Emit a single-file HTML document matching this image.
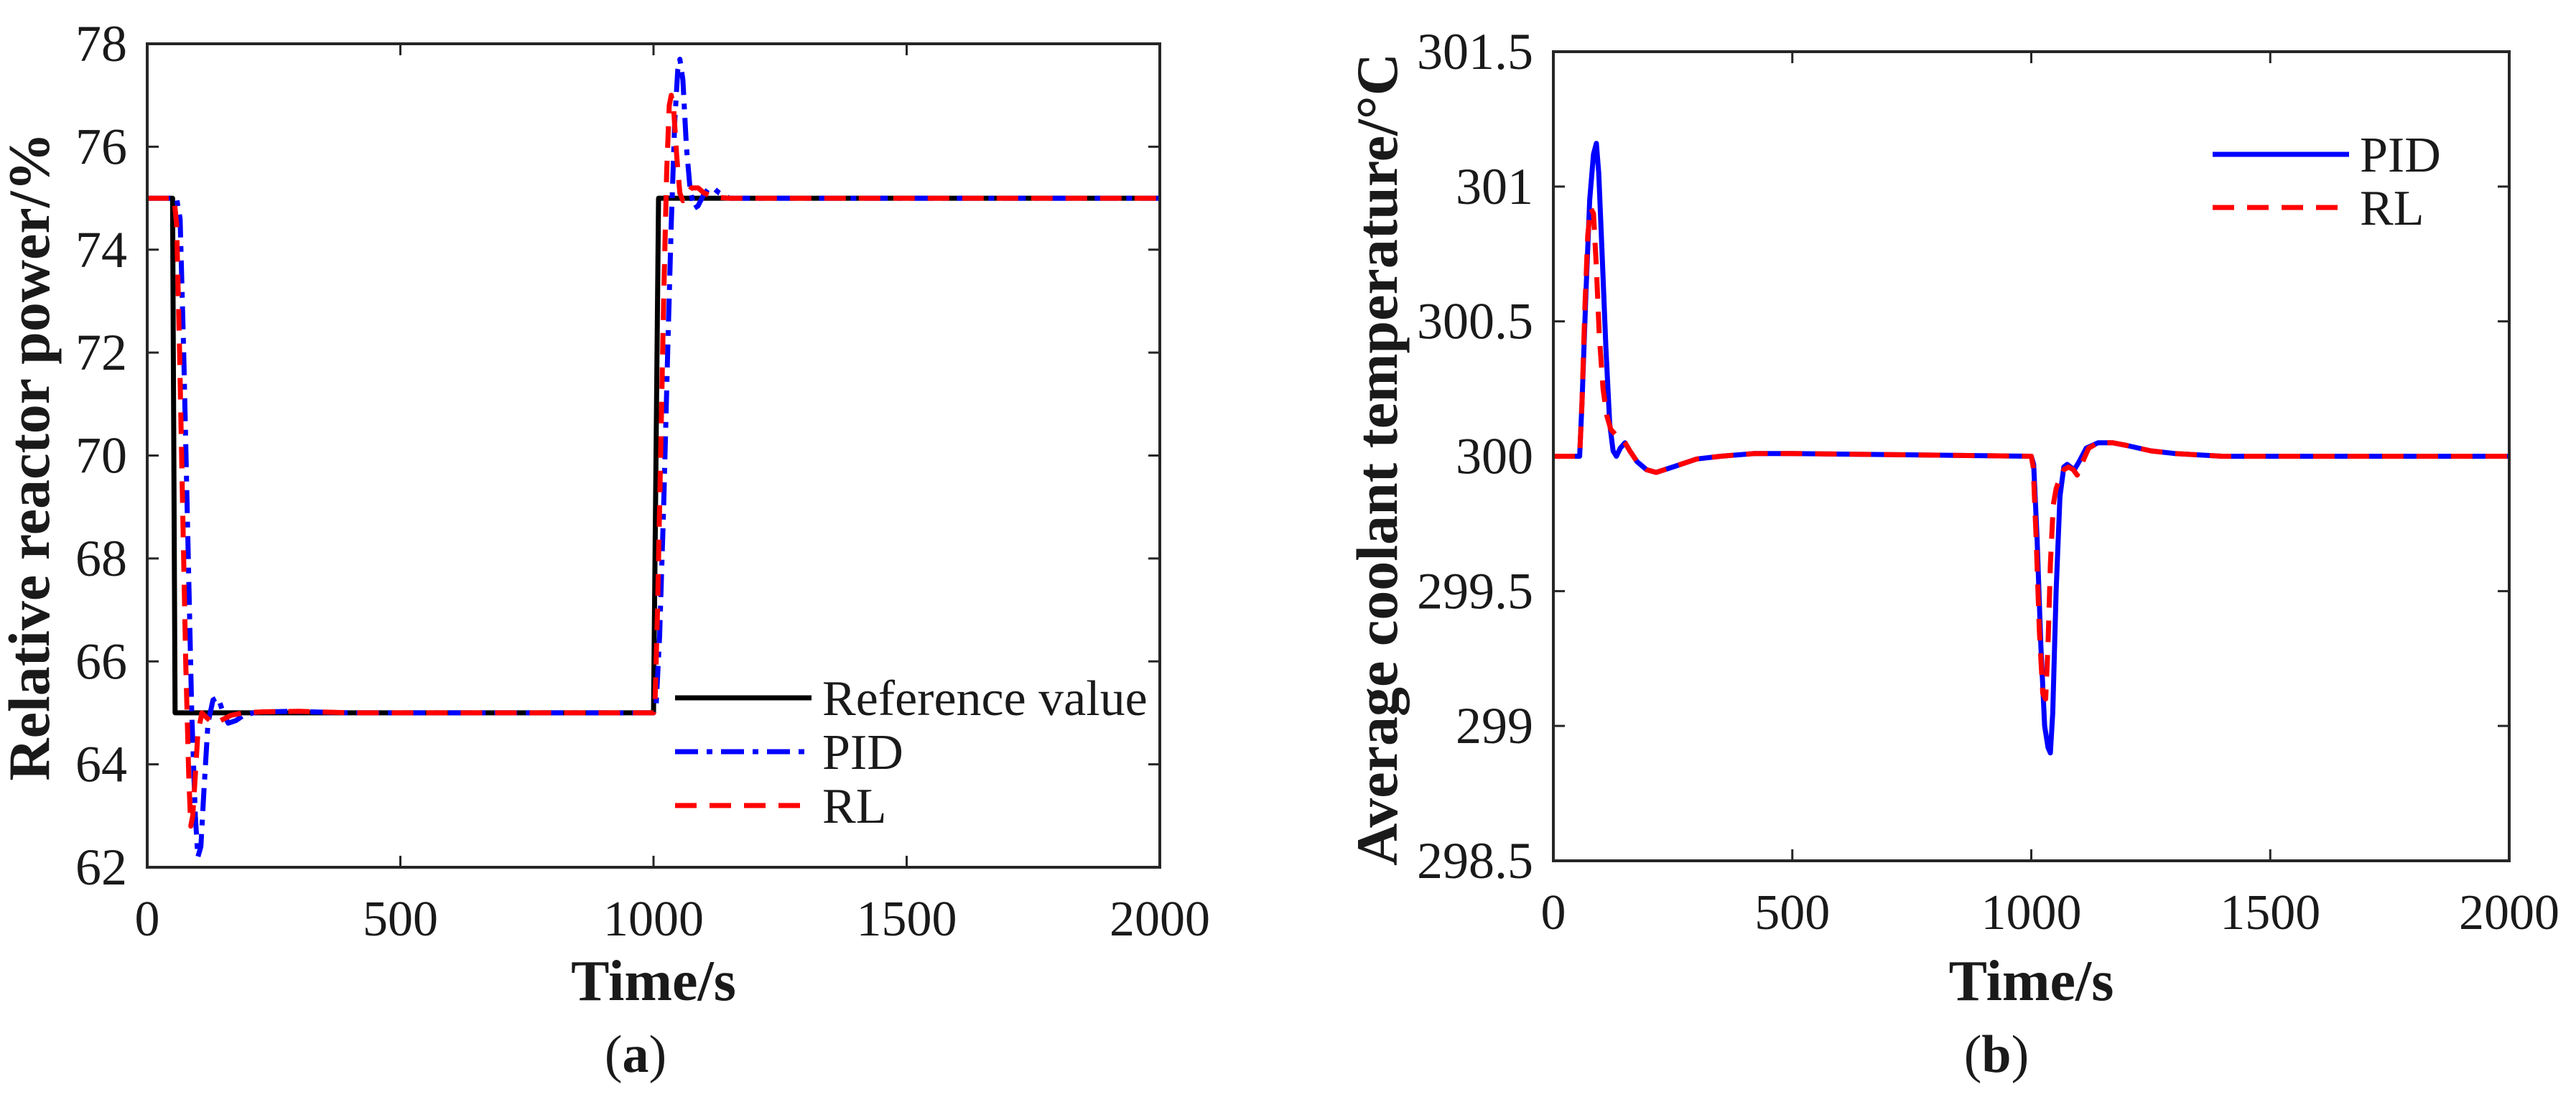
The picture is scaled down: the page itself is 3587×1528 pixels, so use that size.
<!DOCTYPE html>
<html><head><meta charset="utf-8"><style>
html,body{margin:0;padding:0;background:#fff}
svg{display:block;font-family:"Liberation Serif","Times New Roman","DejaVu Serif",serif}
svg text{font-family:"Liberation Serif","Times New Roman","DejaVu Serif",serif;fill:#1a1a1a}
</style></head><body>
<svg id="fig" width="3587" height="1528" viewBox="0 0 3587 1528"></svg>
<script>
// ---------- Data: panel (a) relative reactor power ----------
const aXTicks = [0, 500, 1000, 1500, 2000];
const aYTicks = [62, 64, 66, 68, 70, 72, 74, 76, 78];
const aRefT = [0, 50, 55, 1000, 1010, 2000];
const aRefV = [75, 75, 65, 65, 75, 75];
const aPidT = [0, 58, 65, 72, 80, 88, 95, 100, 106, 112, 120, 130, 140, 150, 160, 175, 190, 210, 240, 280, 320, 400, 1000, 1005, 1012, 1020, 1028, 1035, 1042, 1048, 1052, 1058, 1065, 1072, 1080, 1088, 1098, 1108, 1118, 1130, 1150, 1180, 1250, 2000];
const aPidV = [75, 75, 74.6, 72, 68.5, 65, 63, 62.2, 62.4, 63.5, 64.8, 65.25, 65.3, 65.0, 64.8, 64.85, 64.95, 65.0, 65.02, 65.03, 65.02, 65.0, 65.0, 65.1, 66.5, 69, 72, 74.5, 76.5, 77.5, 77.7, 77.3, 76, 75.2, 74.8, 74.85, 75.05, 75.18, 75.2, 75.1, 75.0, 75.0, 75.0, 75.0];
const aRlT = [0, 53, 58, 64, 70, 76, 82, 86, 90, 95, 100, 108, 118, 130, 145, 165, 190, 230, 300, 400, 1000, 1003, 1008, 1014, 1020, 1026, 1031, 1035, 1040, 1046, 1052, 1058, 1065, 1075, 1088, 1100, 1120, 1150, 1200, 2000];
const aRlV = [75, 75, 74.5, 72, 69, 66, 63.8, 62.8, 63, 63.8, 64.6, 65.0, 64.9, 64.8, 64.85, 64.95, 65.0, 65.02, 65.03, 65.0, 65.0, 65.2, 67, 70, 73, 75.5, 76.8, 77.0, 76.7, 75.8, 75.1, 74.95, 75.05, 75.2, 75.2, 75.1, 75.02, 75.0, 75.0, 75.0];
// ---------- Data: panel (b) average coolant temperature ----------
const bXTicks = [0, 500, 1000, 1500, 2000];
const bYTicks = [298.5, 299, 299.5, 300, 300.5, 301, 301.5];
const bPidT = [0, 55, 60, 68, 76, 84, 90, 95, 102, 110, 118, 125, 132, 140, 150, 160, 175, 195, 215, 250, 300, 350, 420, 500, 1000, 1005, 1012, 1020, 1028, 1035, 1040, 1045, 1052, 1060, 1068, 1075, 1082, 1090, 1100, 1115, 1140, 1170, 1200, 1250, 1300, 1400, 2000];
const bPidV = [300, 300, 300.2, 300.6, 300.95, 301.12, 301.16, 301.05, 300.75, 300.4, 300.12, 300.02, 300.0, 300.03, 300.05, 300.02, 299.98, 299.95, 299.94, 299.96, 299.99, 300.0, 300.01, 300.01, 300.0, 299.97, 299.7, 299.3, 299.0, 298.92, 298.9, 299.05, 299.5, 299.85, 299.96, 299.97, 299.96, 299.95, 299.98, 300.03, 300.05, 300.05, 300.04, 300.02, 300.01, 300.0, 300.0];
const bRlT = [0, 55, 60, 66, 72, 78, 84, 90, 96, 104, 112, 120, 130, 140, 150, 160, 175, 195, 215, 250, 300, 350, 420, 500, 1000, 1004, 1010, 1017, 1024, 1030, 1035, 1040, 1046, 1052, 1060, 1068, 1078, 1088, 1096, 1105, 1120, 1140, 1170, 1200, 1250, 1300, 1400, 2000];
const bRlV = [300, 300, 300.2, 300.55, 300.82, 300.92, 300.9, 300.7, 300.45, 300.25, 300.15, 300.1, 300.08, 300.07, 300.05, 300.02, 299.98, 299.95, 299.94, 299.96, 299.99, 300.0, 300.01, 300.01, 300.0, 299.96, 299.7, 299.35, 299.12, 299.1, 299.3, 299.6, 299.82, 299.88, 299.92, 299.95, 299.96, 299.95, 299.93, 299.97, 300.03, 300.05, 300.05, 300.04, 300.02, 300.01, 300.0, 300.0];

const NS = 'http://www.w3.org/2000/svg';
const svg = document.getElementById('fig');
const FONT = '"Liberation Serif", "Times New Roman", "DejaVu Serif", serif';
function mk(tag, attrs, parent) {
  const e = document.createElementNS(NS, tag);
  for (const k in attrs) e.setAttribute(k, attrs[k]);
  if (tag === 'text') e.style.fontFamily = FONT;
  (parent || svg).appendChild(e);
  return e;
}
function makeScale(d0, d1, r0, r1) { return v => r0 + (v - d0) / (d1 - d0) * (r1 - r0); }

function panel(cfg) {
  const g = mk('g', {});
  
  
  const X = makeScale(cfg.xd[0], cfg.xd[1], cfg.L, cfg.R);
  const Y = makeScale(cfg.yd[0], cfg.yd[1], cfg.B, cfg.T);
  cfg.xTicks.forEach(t => {
    const x = X(t);
    const tk = mk('path', {d: `M${x},${cfg.B}v-16M${x},${cfg.T}v16`, stroke: '#262626', 'stroke-width': 3, fill: 'none'}, g);
    
    
    const lb = mk('text', {x: x, y: cfg.B + 95, 'font-size': 70, 'text-anchor': 'middle'}, g);
    
    
    lb.textContent = String(t);
  });
  cfg.yTicks.forEach(t => {
    const y = Y(t);
    const tk = mk('path', {d: `M${cfg.L},${y}h16M${cfg.R},${y}h-16`, stroke: '#262626', 'stroke-width': 3, fill: 'none'}, g);
    
    
    const lb = mk('text', {x: cfg.L - 28, y: y + 24, 'font-size': 72, 'text-anchor': 'end'}, g);
    
    
    lb.textContent = String(t);
  });
  cfg.series.forEach(s => {
    const pts = s.t.map((t, i) => X(t).toFixed(1) + ',' + Y(s.v[i]).toFixed(1)).join(' ');
    const p = mk('polyline', {points: pts, fill: 'none', stroke: s.color, 'stroke-width': 7, 'stroke-linejoin': 'round', 'stroke-dasharray': s.dash || 'none'}, g);
    
    
  });
  const fr = mk('rect', {x: cfg.L, y: cfg.T, width: cfg.R - cfg.L, height: cfg.B - cfg.T, fill: 'none', stroke: '#262626', 'stroke-width': 4}, g);
  
  
  const lg = mk('g', {}, g);
  
  
  cfg.legend.forEach((e, i) => {
    const y = cfg.legY + i * cfg.legStep;
    const ln = mk('line', {x1: cfg.legX, x2: cfg.legX + 190, y1: y, y2: y, stroke: e.color, 'stroke-width': 7, 'stroke-dasharray': e.dash || 'none'}, lg);
    
    
    const tx = mk('text', {x: cfg.legX + 205, y: y + 24, 'font-size': 70}, lg);
    
    
    tx.textContent = e.label;
  });
  const xt = mk('text', {x: (cfg.L + cfg.R) / 2, y: 1393, 'font-size': 80, 'font-weight': 'bold', 'text-anchor': 'middle'}, g);
  
  
  xt.textContent = 'Time/s';
  const yt = mk('text', {x: 0, y: 0, 'font-size': 82, 'font-weight': 'bold', 'text-anchor': 'middle', transform: `translate(${cfg.ytX},${cfg.ytY}) rotate(-90)`}, g);
  
  
  yt.textContent = cfg.yTitle;
  const cap = mk('text', {x: cfg.capX, y: 1493, 'font-size': 74, 'text-anchor': 'middle'}, g);
  
  
  cap.innerHTML = '(<tspan font-weight="bold">' + cfg.cap + '</tspan>)';
}

const DASH = '30 18';
const DASHDOT = '32 12 8 12';
panel({
  name: 'panel-a-power', L: 205, R: 1615, T: 61, B: 1208, xd: [0, 2000], yd: [62, 78],
  xTicks: aXTicks, yTicks: aYTicks,
  series: [
    {name: 'reference-line', t: aRefT, v: aRefV, color: '#000000'},
    {name: 'pid-line', t: aPidT, v: aPidV, color: '#0000ff', dash: DASHDOT},
    {name: 'rl-line', t: aRlT, v: aRlV, color: '#ff0000', dash: DASH}
  ],
  legend: [
    {label: 'Reference value', color: '#000000'},
    {label: 'PID', color: '#0000ff', dash: DASHDOT},
    {label: 'RL', color: '#ff0000', dash: DASH}
  ],
  legX: 940, legY: 972, legStep: 75,
  yTitle: 'Relative reactor power/%', ytX: 68, ytY: 636, capX: 885, cap: 'a'
});
panel({
  name: 'panel-b-temperature', L: 2163, R: 3494, T: 72, B: 1199, xd: [0, 2000], yd: [298.5, 301.5],
  xTicks: bXTicks, yTicks: bYTicks,
  series: [
    {name: 'pid-line', t: bPidT, v: bPidV, color: '#0000ff'},
    {name: 'rl-line', t: bRlT, v: bRlV, color: '#ff0000', dash: DASH}
  ],
  legend: [
    {label: 'PID', color: '#0000ff'},
    {label: 'RL', color: '#ff0000', dash: DASH}
  ],
  legX: 3081, legY: 215, legStep: 74,
  yTitle: 'Average coolant temperature/°C', ytX: 1945, ytY: 640, capX: 2780, cap: 'b'
});
</script>
</body></html>
